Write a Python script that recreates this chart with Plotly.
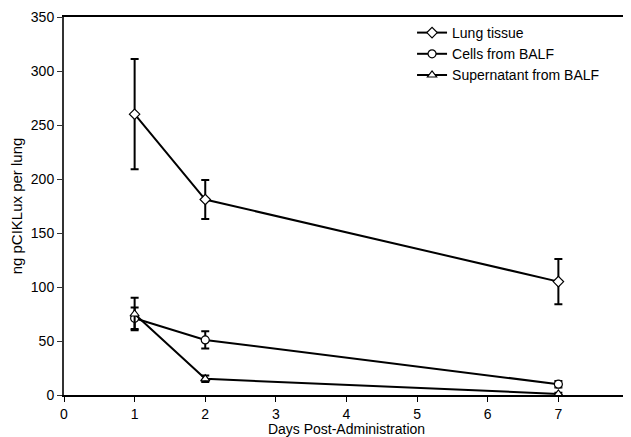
import plotly.graph_objects as go

days = [1, 2, 7]
lung_tissue = [260, 181, 105]
lung_err = [51, 18, 21]
cells_balf = [71, 51, 10]
cells_err = [10, 8, 3]
super_balf = [75, 15, 1]
super_err = [15, 3, 1]

x_ticks = [0, 1, 2, 3, 4, 5, 6, 7, 8]
y_ticks = [0, 50, 100, 150, 200, 250, 300, 350]

fig = go.Figure()

def add(name, y, err, symbol):
    fig.add_trace(go.Scatter(
        x=days, y=y, name=name, mode="lines+markers",
        line=dict(color="black", width=2),
        marker=dict(symbol=symbol, size=8, color="white",
                    line=dict(color="black", width=1.2)),
        error_y=dict(type="data", array=err, visible=True,
                     color="black", thickness=2, width=4),
    ))

add("Lung tissue", lung_tissue, lung_err, "diamond")
add("Cells from BALF", cells_balf, cells_err, "circle")
add("Supernatant from BALF", super_balf, super_err, "triangle-up")

# page body has an 8px margin, so the figure is sized/offset to compensate
fig.update_layout(
    width=623, height=429,
    margin=dict(l=56, r=2, t=9, b=42, autoexpand=False),
    paper_bgcolor="white", plot_bgcolor="white",
    font=dict(family="Liberation Sans, Arial, sans-serif", size=14, color="black"),
    showlegend=True,
    legend=dict(x=0.616, y=1.0, xanchor="left", yanchor="top",
                bgcolor="rgba(0,0,0,0)", font=dict(size=14),
                itemwidth=30, tracegroupgap=0),
    xaxis=dict(range=[0, 8], tickvals=x_ticks, showgrid=False, zeroline=False,
               showline=True, linecolor="black", linewidth=2, mirror=True,
               ticks="outside", ticklen=5, tickcolor="black", automargin=False,
               tickfont=dict(size=14), ticklabeloverflow="allow",
               title=dict(text="Days Post-Administration", standoff=2, font=dict(size=14))),
    yaxis=dict(range=[0, 350], tickvals=y_ticks, showgrid=False, zeroline=False,
               showline=True, linecolor="#333", linewidth=2, mirror=True,
               ticks="outside", ticklen=5, tickcolor="#333", automargin=False,
               tickfont=dict(size=14),
               title=dict(text="ng pCIKLux per lung", standoff=6, font=dict(size=15))),
)

fig.write_html("out.html")
